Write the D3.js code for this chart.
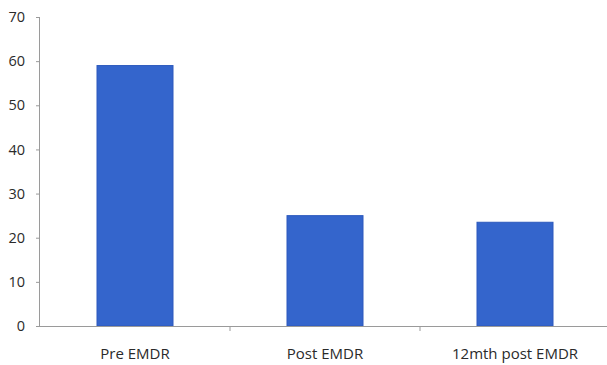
<!DOCTYPE html>
<html><head><meta charset="utf-8">
<script src="https://cdn.jsdelivr.net/npm/d3@7"></script>
<style>body{margin:0;background:#fff}text{font-family:"Open Sans","Noto Sans",sans-serif;fill:#2a2a2a}</style>
</head><body>
<svg id="c" width="607" height="365"></svg>
<script>
const categories = ["Pre EMDR", "Post EMDR", "12mth post EMDR"];
const values = [59, 25, 23.5];
const yTicks = [0, 10, 20, 30, 40, 50, 60, 70];

const svg = d3.select("#c");
const m = {left: 40, top: 17, right: 0, bottom: 39};
const x = d3.scaleBand().domain(categories).range([m.left, 610]).paddingInner(0.6).paddingOuter(0.3);
const y = d3.scaleLinear().domain([0, 70]).range([326, 17]);

svg.selectAll("rect.bar").data(values).enter().append("rect")
  .attr("class", "bar")
  .attr("x", (d, i) => x(categories[i]))
  .attr("width", x.bandwidth())
  .attr("y", d => y(d))
  .attr("height", d => y(0) - y(d))
  .attr("fill", "#3465cc")
  .attr("stroke", "#2c59bd").attr("stroke-width", 1);

const yAxis = svg.append("g").attr("transform", `translate(${m.left},0)`)
  .call(d3.axisLeft(y).tickValues(yTicks).tickSize(4).tickPadding(11).tickFormat(d3.format("d")));
yAxis.select(".domain").attr("stroke", "#9a9a9a").attr("d", `M-0.5,${y(70)}V${y(0)}`);
yAxis.selectAll(".tick line").attr("stroke", "#9a9a9a");
yAxis.selectAll(".tick text").style("font-size", "14.5px").attr("fill", "#2a2a2a");

const xAxis = svg.append("g").attr("transform", `translate(0,${y(0)})`)
  .call(d3.axisBottom(x).tickSize(0).tickPadding(22));
xAxis.select(".domain").attr("stroke", "#9a9a9a").attr("d", `M${m.left},0.5H607`);
xAxis.selectAll(".tick text").style("font-size", "15px").attr("fill", "#2a2a2a");
// category separators
const seps = categories.slice(1).map(c => x(c) - x.step() * x.paddingInner() / 2);
xAxis.selectAll("line.sep").data(seps).enter().append("line")
  .attr("class", "sep").attr("x1", d => d).attr("x2", d => d)
  .attr("y1", 0).attr("y2", 5).attr("stroke", "#9a9a9a");
</script>
</body></html>
